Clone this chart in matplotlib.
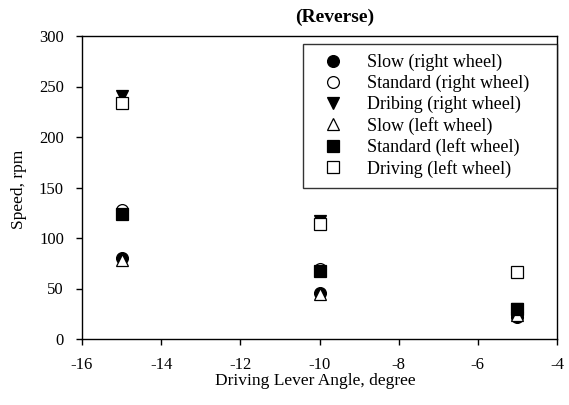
import matplotlib.pyplot as plt
import numpy as np

plt.rcParams['font.family'] = ['Liberation Serif', 'DejaVu Serif']
plt.rcParams['axes.unicode_minus'] = False

angle = [-15, -10, -5]
slow_right = [80, 46, 22]
standard_right = [128, 69, 27]
dribing_right = [241, 117, 30]
slow_left = [78, 45, 24]
standard_left = [124, 67, 30]
driving_left = [234, 114, 66]

series = [
    (slow_right, 'o', 'k', 'Slow (right wheel)'),
    (standard_right, 'o', 'w', 'Standard (right wheel)'),
    (dribing_right, 'v', 'k', 'Dribing (right wheel)'),
    (slow_left, '^', 'w', 'Slow (left wheel)'),
    (standard_left, 's', 'k', 'Standard (left wheel)'),
    (driving_left, 's', 'w', 'Driving (left wheel)'),
]

W, H = 569, 405
fig = plt.figure(figsize=(W / 100, H / 100), dpi=100)
# axes box in pixels: left 82, right 557, top 36, bottom 339
ax = fig.add_axes([82 / W, (H - 339) / H, 475 / W, 303 / H])

for vals, mk, fc, lab in series:
    ax.plot(angle, vals, linestyle='none', marker=mk, markersize=8.5,
            markerfacecolor=fc, markeredgecolor='k', markeredgewidth=0.9,
            label=lab)

ax.set_xlim(-16, -4)
ax.set_ylim(0, 300)
ax.set_xticks(np.arange(-16, -3, 2))
ax.set_yticks(np.arange(0, 301, 50))
ax.tick_params(labelsize=12, direction='out', length=4, width=1)
ax.tick_params(axis='x', pad=9)
ax.tick_params(axis='y', pad=9)
for s in ax.spines.values():
    s.set_linewidth(1.0)

fig.text(335 / W, 1 - 17 / H, '(Reverse)', ha='center', va='center',
         fontsize=14, fontweight='bold')
fig.text(315 / W, 1 - 381 / H, 'Driving Lever Angle, degree', ha='center',
         va='center', fontsize=12.5)
fig.text(19 / W, 1 - 189 / H, 'Speed, rpm', ha='center', va='center',
         rotation=90, fontsize=12.5)

leg = ax.legend(loc='upper left', bbox_to_anchor=(221 / 475, 0, 254 / 475, 295 / 303),
                mode='expand', fontsize=13, frameon=True, fancybox=False,
                edgecolor='k', borderpad=0.55, handletextpad=0.8,
                labelspacing=0.2, borderaxespad=0, handlelength=2.2)
leg.get_frame().set_linewidth(1.0)

fig.savefig('out.png', dpi=100)
